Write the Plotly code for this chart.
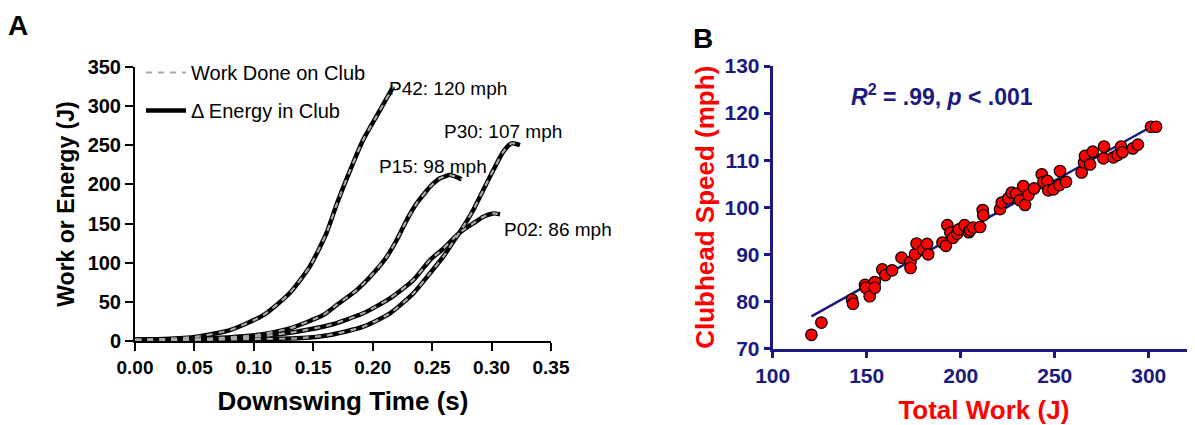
import numpy as np
import plotly.graph_objects as go

# ---------------- Panel A data (Downswing time s, Work/Energy J) ----------------
p42_t = [0.000, 0.025, 0.052, 0.080, 0.108, 0.130, 0.147, 0.161, 0.170, 0.181, 0.192, 0.203, 0.2173]
p42_w = [2.0, 2.5, 5.5, 14.0, 33.0, 61.0, 95.0, 137.5, 176.0, 218.0, 257.0, 286.5, 325.0]

p15_t = [0.000, 0.040, 0.066, 0.1024, 0.1304, 0.1584, 0.1697, 0.1865, 0.2005, 0.2118, 0.2202,
         0.2286, 0.237, 0.2454, 0.2482, 0.2566, 0.265, 0.2749]
p15_w = [1.5, 2.2, 3.5, 7.7, 16.2, 33.2, 46.0, 65.0, 86.5, 107.7, 129.0,
         154.5, 175.9, 192.0, 197.0, 207.8, 212.0, 206.5]

p30_t = [0.000, 0.050, 0.100, 0.136, 0.164, 0.192, 0.2145, 0.2342, 0.2482, 0.2594, 0.2678,
         0.2762, 0.2846, 0.293, 0.3015, 0.3099, 0.3169, 0.3239]
p30_w = [1.0, 1.5, 2.5, 3.4, 7.7, 18.3, 35.4, 60.9, 86.5, 107.7, 126.8,
         146.0, 167.3, 192.8, 218.4, 241.8, 252.5, 250.3]

p02_t = [0.000, 0.040, 0.066, 0.108, 0.136, 0.164, 0.192, 0.2145, 0.2342, 0.2482, 0.2594,
         0.2692, 0.2762, 0.2846, 0.293, 0.3015, 0.3071]
p02_w = [1.0, 1.3, 2.0, 6.4, 11.9, 20.4, 35.4, 54.5, 77.9, 103.4, 118.0,
         133.0, 141.8, 150.3, 158.8, 163.0, 161.8]

curve_labels = ["P42: 120 mph", "P15: 98 mph", "P30: 107 mph", "P02: 86 mph"]
label_t = [0.2121, 0.2033, 0.2583, 0.3088]   # left edge of each label (s)
label_w = [322, 223.5, 267, 143]

# ---------------- Panel B data (Total work J, Clubhead speed mph) ----------------
total_work = [120.6, 125.9, 142.2, 142.7, 149.1, 149.5, 151.6, 154.3, 154.3, 158.3, 159.9, 163.5,
              168.5, 173.3, 173.3, 175.7, 176.5, 180.0, 182.1, 182.7, 190.3, 192.1, 192.9, 194.5,
              195.9, 198.1, 199.0, 202.0, 204.3, 205.0, 206.6, 210.3, 211.7, 212.0, 220.9, 221.8,
              225.3, 227.1, 229.5, 231.5, 233.3, 234.2, 236.0, 239.0, 243.1, 244.0, 246.1, 246.6,
              249.3, 252.5, 252.8, 256.0, 264.3, 265.6, 266.1, 268.8, 270.2, 275.9, 276.2, 281.2,
              283.4, 285.3, 286.0, 291.5, 294.2, 301.2, 303.9]
club_speed = [72.9, 75.5, 80.4, 79.5, 83.5, 82.9, 81.1, 84.1, 82.9, 86.8, 85.6, 86.6,
              89.3, 88.4, 87.1, 90.0, 92.3, 91.0, 92.2, 90.0, 92.5, 91.8, 96.2, 94.6,
              93.5, 94.4, 95.3, 96.2, 94.7, 95.1, 95.7, 95.8, 99.4, 98.3, 99.6, 101.0,
              101.9, 103.1, 102.9, 101.5, 104.5, 100.5, 102.6, 104.0, 107.0, 105.4, 105.6, 103.6,
              103.8, 104.7, 107.7, 105.4, 107.4, 109.5, 110.9, 109.1, 111.8, 110.4, 112.9, 110.6,
              111.1, 112.9, 111.7, 112.5, 113.3, 117.1, 117.1]

xa_ticks = [0.00, 0.05, 0.10, 0.15, 0.20, 0.25, 0.30, 0.35]
ya_ticks = [0, 50, 100, 150, 200, 250, 300, 350]
xb_ticks = [100, 150, 200, 250, 300]
yb_ticks = [70, 80, 90, 100, 110, 120, 130]

NAVY = "#1A1A80"
RED = "#FF0000"
FONT = "Liberation Sans, Arial, sans-serif"

fig = go.Figure()

curves = [(p42_t, p42_w), (p15_t, p15_w), (p30_t, p30_w), (p02_t, p02_w)]
# black solid (Delta energy) underneath
for i, (t, w) in enumerate(curves):
    fig.add_trace(go.Scatter(x=t, y=w, mode="lines", xaxis="x", yaxis="y",
                             line=dict(color="black", width=4.5, shape="spline", smoothing=0.6),
                             name="\u0394 Energy in Club", legendgroup="energy", legendrank=2,
                             showlegend=(i == 0)))
# grey dashed (work done) on top
for i, (t, w) in enumerate(curves):
    fig.add_trace(go.Scatter(x=t, y=w, mode="lines", xaxis="x", yaxis="y",
                             line=dict(color="#A8A8A8", width=2.2, dash="6px,6px", shape="spline", smoothing=0.6),
                             name="Work Done on Club", legendgroup="work", legendrank=1,
                             showlegend=(i == 0)))

# Panel B scatter + regression line
slope, intercept = np.polyfit(total_work, club_speed, 1)
fx = np.array([min(total_work), max(total_work)])
fig.add_trace(go.Scatter(x=fx, y=slope * fx + intercept, mode="lines", xaxis="x2", yaxis="y2",
                         line=dict(color=NAVY, width=2.5), showlegend=False))
fig.add_trace(go.Scatter(x=total_work, y=club_speed, mode="markers", xaxis="x2", yaxis="y2",
                         marker=dict(color=RED, size=11.5, line=dict(color="black", width=1.2)),
                         showlegend=False))

# The page body adds an 8px offset; the figure is sized so that it ends at the window edge.
OFF = 8
W, H = 1195 - OFF, 425 - OFF
def px_x(p): return (p - OFF) / W
def px_y(p): return 1 - (p - OFF) / H

annotations = []
for lab, tx, wy in zip(curve_labels, label_t, label_w):
    annotations.append(dict(x=tx, y=wy, xref="x", yref="y", text=lab, showarrow=False,
                            xanchor="left", yanchor="middle",
                            font=dict(family=FONT, size=19, color="black")))
annotations.append(dict(x=190, y=123.9, xref="x2", yref="y2",
                        text="<i>R</i><sup>2</sup> = .99, <i>p</i> &lt; .001", showarrow=False,
                        xanchor="center", yanchor="middle",
                        font=dict(family=FONT, size=23, color=NAVY, weight="bold")))
annotations.append(dict(x=px_x(18), y=1.0, xref="paper", yref="paper", text="A", showarrow=False,
                        xanchor="center", yanchor="top",
                        font=dict(family=FONT, size=28, color="black", weight="bold")))
annotations.append(dict(x=px_x(703), y=px_y(38), xref="paper", yref="paper", text="B", showarrow=False,
                        xanchor="center", yanchor="middle",
                        font=dict(family=FONT, size=28, color="black", weight="bold")))

common = dict(showgrid=False, zeroline=False, automargin=False, ticks="outside")

fig.update_layout(
    width=W, height=H,
    margin=dict(l=0, r=0, t=0, b=0, autoexpand=False),
    paper_bgcolor="white", plot_bgcolor="white",
    hovermode=False,
    font=dict(family=FONT),
    xaxis=dict(domain=[px_x(135), px_x(551)], range=[0, 0.35], tickvals=xa_ticks, tickformat=".2f",
               showline=True, linecolor="black", linewidth=2, ticklen=8, tickwidth=2,
               tickcolor="black", anchor="y",
               tickfont=dict(family=FONT, size=19, color="black", weight="bold"),
               title=dict(text="Downswing Time (s)", standoff=15,
                          font=dict(family=FONT, size=26, color="black", weight="bold")), **common),
    yaxis=dict(domain=[px_y(341), px_y(67)], range=[0, 350], tickvals=ya_ticks,
               showline=True, linecolor="black", linewidth=2, ticklen=8, tickwidth=2,
               tickcolor="black", anchor="x",
               tickfont=dict(family=FONT, size=20, color="black", weight="bold"),
               title=dict(text="Work or Energy (J)", standoff=7,
                          font=dict(family=FONT, size=23, color="black", weight="bold")), **common),
    xaxis2=dict(domain=[px_x(772.7), 1.0], range=[100, 324.6], tickvals=xb_ticks,
                showline=True, linecolor=NAVY, linewidth=3, ticklen=6, tickwidth=3,
                tickcolor=NAVY, anchor="y2",
                tickfont=dict(family=FONT, size=21, color=NAVY, weight="bold"),
                title=dict(text="Total Work (J)", standoff=17,
                           font=dict(family=FONT, size=26, color=RED, weight="bold")), **common),
    yaxis2=dict(domain=[px_y(348.5), px_y(66)], range=[70, 130], tickvals=yb_ticks,
                showline=True, linecolor=NAVY, linewidth=3, ticklen=6, tickwidth=3,
                tickcolor=NAVY, anchor="x2",
                tickfont=dict(family=FONT, size=21, color=NAVY, weight="bold"),
                title=dict(text="Clubhead Speed (mph)", standoff=3,
                           font=dict(family=FONT, size=26, color=RED, weight="bold")), **common),
    legend=dict(x=px_x(141), y=px_y(53), xanchor="left", yanchor="top",
                bgcolor="rgba(0,0,0,0)", traceorder="grouped", tracegroupgap=9,
                font=dict(family=FONT, size=20, color="black"), itemwidth=40),
    annotations=annotations,
)

fig.write_html("out.html")
